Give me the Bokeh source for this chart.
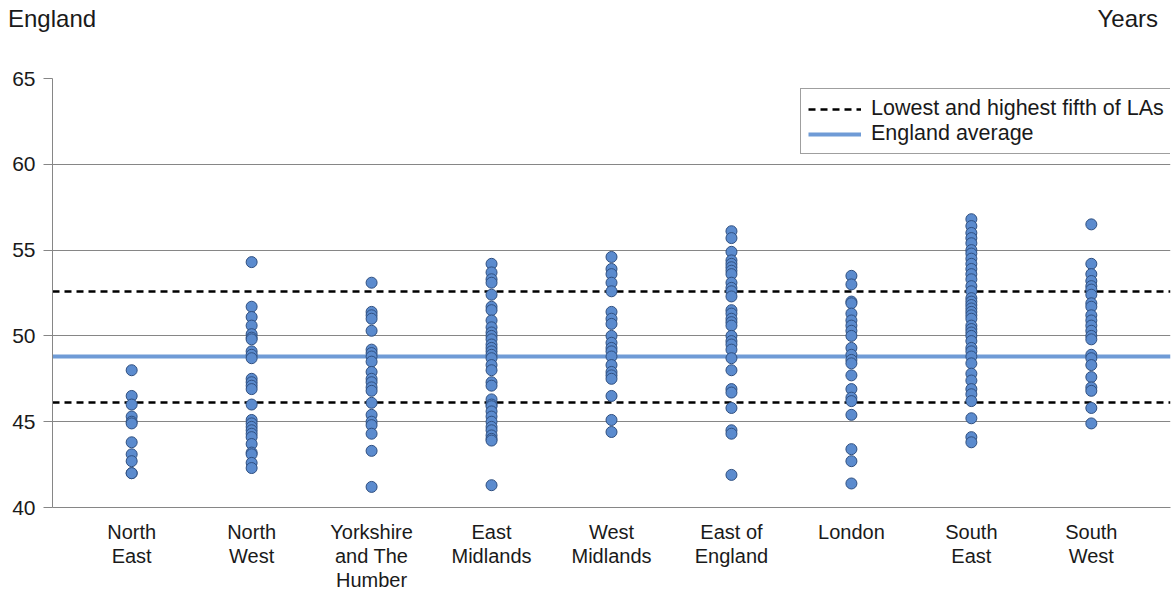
from bokeh.plotting import figure
from bokeh.models import FixedTicker, Legend, LegendItem, Div
from bokeh.layouts import column
from bokeh.embed import file_html
from bokeh.resources import INLINE

# ---------------- data ----------------
regions = ["North East", "North West", "Yorkshire and The Humber", "East Midlands",
           "West Midlands", "East of England", "London", "South East", "South West"]
region_tick_labels = ["North\nEast", "North\nWest", "Yorkshire\nand The\nHumber", "East\nMidlands",
                      "West\nMidlands", "East of\nEngland", "London", "South\nEast", "South\nWest"]

north_east = [48.0, 46.5, 46.0, 45.3, 45.0, 44.9, 43.8, 43.1, 42.7, 42.0, 42.0]
north_west = [54.3, 51.7, 51.1, 50.6, 50.1, 49.9, 49.8, 49.1, 48.9, 48.7, 47.5, 47.3, 47.1, 46.9,
              46.0, 45.1, 44.9, 44.7, 44.5, 44.3, 44.1, 43.7, 43.2, 43.1, 42.6, 42.3]
yorkshire = [53.1, 51.4, 51.2, 51.0, 50.3, 49.2, 49.0, 48.8, 48.5, 47.9, 47.5, 47.3, 47.0, 46.8,
             46.1, 45.4, 45.0, 44.8, 44.3, 43.3, 41.2]
east_midlands = [54.2, 53.7, 53.3, 53.1, 52.4, 51.7, 51.5, 50.9, 50.5, 50.2, 50.0, 49.8, 49.5, 49.3,
                 49.1, 48.9, 48.7, 48.3, 48.0, 47.3, 47.1, 46.3, 46.0, 45.9, 45.6, 45.3, 45.0, 44.7,
                 44.5, 44.2, 44.0, 43.9, 41.3]
west_midlands = [54.6, 53.9, 53.6, 53.1, 52.6, 51.4, 51.0, 50.7, 50.0, 49.6, 49.3, 49.1, 48.8, 48.3,
                 47.9, 47.7, 47.5, 46.5, 45.1, 44.4]
east_of_england = [56.1, 55.7, 54.9, 54.4, 54.2, 54.0, 53.8, 53.6, 53.1, 52.8, 52.6, 52.3, 51.5, 51.3,
                   51.0, 50.8, 50.6, 50.0, 49.7, 49.5, 49.2, 48.7, 48.0, 46.9, 46.7, 45.8, 44.5, 44.3,
                   41.9]
london = [53.5, 53.0, 52.0, 51.9, 51.3, 50.9, 50.6, 50.3, 50.0, 49.3, 48.9, 48.6, 48.4, 47.7, 46.9,
          46.4, 46.2, 45.4, 43.4, 42.7, 41.4]
south_east = [56.8, 56.4, 56.0, 55.7, 55.4, 55.0, 54.8, 54.5, 54.2, 53.9, 53.6, 53.3, 52.9, 52.6,
              52.2, 52.0, 51.8, 51.6, 51.4, 51.2, 51.0, 50.6, 50.4, 50.2, 50.0, 49.7, 49.3, 49.1,
              48.8, 48.4, 47.8, 47.4, 46.9, 46.6, 46.2, 45.2, 44.1, 43.8]
south_west = [56.5, 54.2, 53.6, 53.2, 52.9, 52.7, 52.4, 51.9, 51.7, 51.2, 50.9, 50.6, 50.3, 50.0,
              49.8, 48.9, 48.7, 48.3, 47.6, 47.0, 46.8, 45.8, 44.9]

england_average = 48.8
lowest_fifth = 46.1
highest_fifth = 52.6

y_ticks = [40, 45, 50, 55, 60, 65]

series = [north_east, north_west, yorkshire, east_midlands, west_midlands,
          east_of_england, london, south_east, south_west]

xs, ys = [], []
for i, vals in enumerate(series):
    xs += [i + 1] * len(vals)
    ys += vals

# ---------------- figure ----------------
FONT = "Liberation Sans"
TXT = "#1a1a1a"
GRID = "#868686"

x0, x1 = 0.34, 9.66
y0, y1 = 40, 65

HEADER_H = 40

header = Div(
    text=(
        f'<div style="position:relative;width:1173px;height:{HEADER_H}px;'
        f'font-family:\'{FONT}\';font-size:24px;line-height:24px;color:{TXT};">'
        '<span style="position:absolute;left:8px;top:7px;">England</span>'
        '<span style="position:absolute;right:15px;top:7px;">Years</span>'
        '</div>'
    ),
    width=1173, height=HEADER_H, margin=0,
)

p = figure(width=1173, height=594 - HEADER_H, x_range=(x0, x1), y_range=(y0, y1),
           output_backend="svg", toolbar_location=None,
           min_border_left=52, min_border_right=3, min_border_top=78 - HEADER_H,
           min_border_bottom=87)
p.outline_line_color = None
p.background_fill_color = "white"
p.border_fill_color = "white"

p.xgrid.visible = False
p.ygrid.ticker = FixedTicker(ticks=y_ticks)
p.ygrid.grid_line_color = GRID
p.ygrid.grid_line_width = 1

p.yaxis.ticker = FixedTicker(ticks=y_ticks)
p.yaxis.axis_line_color = GRID
p.yaxis.major_tick_line_color = GRID
p.yaxis.major_tick_out = 9
p.yaxis.major_tick_in = 0
p.yaxis.minor_tick_line_color = None
p.yaxis.major_label_standoff = 8
p.yaxis.major_label_text_font = FONT
p.yaxis.major_label_text_font_size = "21px"
p.yaxis.major_label_text_color = TXT

p.xaxis.ticker = FixedTicker(ticks=list(range(1, len(regions) + 1)))
p.xaxis.major_label_overrides = {i + 1: lab for i, lab in enumerate(region_tick_labels)}
p.xaxis.axis_line_color = GRID
p.xaxis.major_tick_line_color = None
p.xaxis.major_tick_out = 0
p.xaxis.major_tick_in = 0
p.xaxis.minor_tick_line_color = None
p.xaxis.major_label_standoff = 13
p.xaxis.major_label_text_font = FONT
p.xaxis.major_label_text_font_size = "20px"
p.xaxis.major_label_text_color = TXT
p.xaxis.major_label_text_line_height = 1.1

# reference lines
r_fifth = p.hspan(y=[lowest_fifth, highest_fifth], line_color="black", line_width=2.5, line_dash="7 5")
r_avg = p.hspan(y=[england_average], line_color="#6F9BD6", line_width=4)

# dots
p.scatter(xs, ys, size=11, fill_color="#5B8BCE", line_color="#2F4F80", line_width=1)

legend = Legend(items=[LegendItem(label="Lowest and highest fifth of LAs", renderers=[r_fifth]),
                       LegendItem(label="England average", renderers=[r_avg])],
                location=(748, 353))
legend.label_text_font = FONT
legend.label_text_font_size = "21.5px"
legend.label_text_color = TXT
legend.glyph_width = 53
legend.glyph_height = 22
legend.label_height = 22
legend.label_standoff = 10
legend.spacing = 0
legend.padding = 7
legend.margin = 0
legend.border_line_color = "#404040"
legend.border_line_width = 1
legend.background_fill_color = "white"
legend.background_fill_alpha = 1
p.add_layout(legend, "center")

layout = column(header, p, spacing=0)

open("out.html", "w").write(file_html(layout, INLINE))
